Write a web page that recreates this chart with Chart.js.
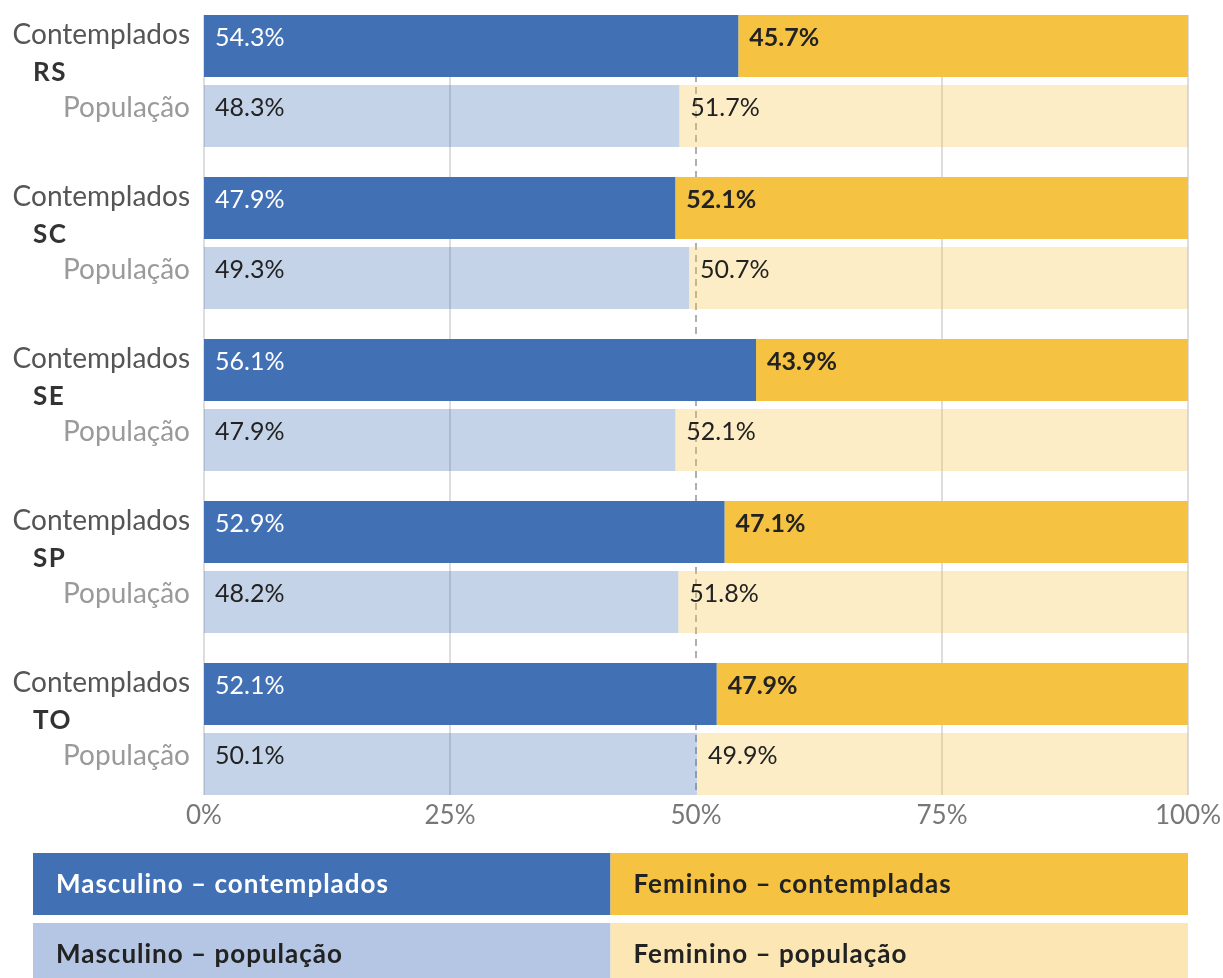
<!DOCTYPE html>
<html>
<head>
<meta charset="utf-8">
<script src="https://cdn.jsdelivr.net/npm/chart.js@4.4.0/dist/chart.umd.min.js"></script>
<style>
  body { margin: 0; background: #fff; }
  #wrap { width: 1223px; height: 978px; }
</style>
</head>
<body>
<div id="wrap"><canvas id="chart"></canvas></div>
<script>
  // data (percent)
  const states = ['RS', 'SC', 'SE', 'SP', 'TO'];
  const maleAwarded = [54.3, 47.9, 56.1, 52.9, 52.1];
  const femaleAwarded = [45.7, 52.1, 43.9, 47.1, 47.9];
  const malePopulation = [48.3, 49.3, 47.9, 48.2, 50.1];
  const femalePopulation = [51.7, 50.7, 52.1, 51.8, 49.9];
  const xTicks = [0, 25, 50, 75, 100];
  const rowLabels = ['Contemplados', 'População'];
  const seriesLabels = ['Masculino – contemplados', 'Feminino – contempladas', 'Masculino – população', 'Feminino – população'];

  const FONT = 'Lato, "DejaVu Sans", sans-serif';
  const blue = '#4170b4';
  const yellow = '#f5c242';
  const legendColors = [blue, yellow, '#b4c6e4', '#fce6b4'];
  const legendText = ['#ffffff', '#222222', '#222222', '#222222'];
  const valueStyle = [
    { color: '#ffffff', weight: 'normal' },
    { color: '#222222', weight: 'bold' },
    { color: '#222222', weight: 'normal' },
    { color: '#222222', weight: 'normal' }
  ];

  // vertical grid + dashed 50% line, only across the bars
  const gridPlugin = {
    id: 'gridPlugin',
    beforeDatasetsDraw(chart) {
      const ctx = chart.ctx;
      const x = chart.scales.x;
      const first = chart.getDatasetMeta(0).data[0];
      const last = chart.getDatasetMeta(2).data[states.length - 1];
      const top = first.y - first.height / 2;
      const bottom = last.y + last.height / 2;
      ctx.save();
      xTicks.forEach(t => {
        const px = x.getPixelForValue(t);
        ctx.beginPath();
        ctx.lineWidth = 2;
        if (t === 50) {
          ctx.strokeStyle = '#b0b0b0';
          ctx.setLineDash([7, 5]);
        } else {
          ctx.strokeStyle = '#dddddd';
          ctx.setLineDash([]);
        }
        ctx.moveTo(px, top);
        ctx.lineTo(px, bottom);
        ctx.stroke();
      });
      ctx.restore();
    }
  };

  // value labels inside bars, row labels on the left, legend boxes at the bottom
  const labelPlugin = {
    id: 'labelPlugin',
    afterDatasetsDraw(chart) {
      const ctx = chart.ctx;
      ctx.save();
      ctx.textBaseline = 'middle';
      ctx.textAlign = 'left';
      chart.data.datasets.forEach((ds, di) => {
        const st = valueStyle[di];
        ctx.fillStyle = st.color;
        ctx.font = st.weight + ' 25px ' + FONT;
        chart.getDatasetMeta(di).data.forEach((bar, i) => {
          const start = Math.min(bar.base, bar.x);
          ctx.fillText(ds.data[i].toFixed(1) + '%', start + 11, bar.y - 8);
        });
      });

      const left = chart.chartArea.left;
      const y = chart.scales.y;
      ctx.textAlign = 'right';
      ctx.font = '28px ' + FONT;
      states.forEach((s, i) => {
        const a = chart.getDatasetMeta(0).data[i];
        const p = chart.getDatasetMeta(2).data[i];
        ctx.fillStyle = '#555555';
        ctx.fillText(rowLabels[0], left - 14, a.y - 11);
        ctx.fillStyle = '#9a9a9a';
        ctx.fillText(rowLabels[1], left - 14, p.y - 8);
      });
      ctx.textAlign = 'left';
      ctx.font = 'bold 26px ' + FONT;
      ctx.letterSpacing = '1.5px';
      ctx.fillStyle = '#333333';
      states.forEach((s, i) => {
        ctx.fillText(s, 33, y.getPixelForValue(i) - 8);
      });
      ctx.restore();
    },
    afterDraw(chart) {
      const ctx = chart.ctx;
      const area = chart.chartArea;
      const x0 = 33;
      const x2 = area.right;
      const x1 = (x0 + x2) / 2;
      const h = 62;
      const top1 = area.bottom + 43;
      const tops = [top1, top1, top1 + h + 8, top1 + h + 8];
      const lefts = [x0, x1, x0, x1];
      ctx.save();
      ctx.textBaseline = 'middle';
      ctx.textAlign = 'left';
      ctx.font = 'bold 26px ' + FONT;
      ctx.letterSpacing = '1px';
      chart.data.datasets.forEach((ds, di) => {
        ctx.fillStyle = legendColors[di];
        ctx.fillRect(lefts[di], tops[di], x1 - x0, h);
        ctx.fillStyle = legendText[di];
        ctx.fillText(ds.label, lefts[di] + 23, tops[di] + h / 2 + 1);
      });
      ctx.restore();
    }
  };

  new Chart(document.getElementById('chart'), {
    type: 'bar',
    data: {
      labels: states,
      datasets: [
        { label: seriesLabels[0], data: maleAwarded, backgroundColor: blue, stack: 'awarded' },
        { label: seriesLabels[1], data: femaleAwarded, backgroundColor: yellow, stack: 'awarded' },
        { label: seriesLabels[2], data: malePopulation, backgroundColor: 'rgba(65, 112, 180, 0.31)', stack: 'population' },
        { label: seriesLabels[3], data: femalePopulation, backgroundColor: 'rgba(245, 194, 66, 0.3)', stack: 'population' }
      ]
    },
    options: {
      indexAxis: 'y',
      responsive: true,
      maintainAspectRatio: false,
      animation: false,
      categoryPercentage: 0.8642,
      barPercentage: 0.8857,
      layout: {
        padding: { left: 204, right: 35, top: 0, bottom: 132 }
      },
      plugins: {
        legend: { display: false },
        tooltip: { enabled: false }
      },
      scales: {
        x: {
          stacked: true,
          min: 0,
          max: 100,
          border: { display: false },
          grid: { display: false, drawTicks: false },
          afterFit: scale => { scale.height = 36; },
          afterBuildTicks: scale => { scale.ticks = xTicks.map(v => ({ value: v })); },
          ticks: {
            mirror: true,
            padding: -21,
            color: '#777777',
            font: { family: FONT, size: 26 },
            callback: v => v + '%'
          }
        },
        y: {
          stacked: true,
          display: false
        }
      }
    },
    plugins: [gridPlugin, labelPlugin]
  });
</script>
</body>
</html>
